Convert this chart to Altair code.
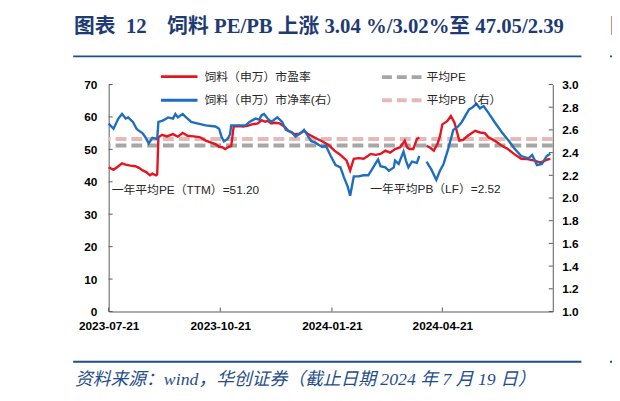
import altair as alt
import pandas as pd

# ---------------- data ----------------
START = "2023-07-21"
X_END = "2024-07-21"
X_TICKS = ["2023-07-21", "2023-10-21", "2024-01-21", "2024-04-21"]
PE_TICKS = [0, 10, 20, 30, 40, 50, 60, 70]
PB_TICKS = [1.0, 1.2, 1.4, 1.6, 1.8, 2.0, 2.2, 2.4, 2.6, 2.8, 3.0]

PE_AVG = 51.20
PB_AVG = 2.52

# days since 2023-07-21 ; series has a gap in early April 2024
PE_DAYS_1 = [0, 4, 8, 11, 14, 18, 22, 25, 28, 31, 34, 36, 39, 40, 41, 44, 48, 53, 57, 61,
             65, 70, 75, 80, 85, 88, 91, 94, 96, 99, 101, 103, 107, 111, 115, 118, 123, 126, 129, 131,
             134, 137, 141, 145, 148, 153, 157, 161, 164, 167, 172, 176, 179, 182, 186, 190, 193, 196, 199, 202,
             206, 210, 213, 216, 220, 224, 228, 232, 236, 240, 243, 244, 246, 248, 251, 254, 256]
PE_VALS_1 = [44.5, 43.7, 44.8, 45.7, 45.3, 45.0, 44.8, 44.3, 43.5, 43.0, 42.0, 42.5, 42.0, 42.3, 53.7, 54.5, 54.0, 54.7, 53.9, 55.1,
             54.2, 54.0, 53.8, 52.7, 52.0, 51.6, 50.8, 50.6, 50.1, 50.8, 51.0, 57.0, 57.2, 57.0, 57.3, 57.7, 58.0, 59.0, 58.5, 58.8,
             58.0, 58.2, 58.0, 57.0, 55.7, 54.7, 54.8, 55.7, 54.8, 54.2, 53.2, 52.5, 51.8, 51.1, 49.6, 48.6, 47.6, 46.6, 43.5, 47.1,
             47.3, 47.1, 47.8, 48.6, 48.3, 48.6, 49.6, 49.0, 50.1, 50.6, 52.1, 52.7, 50.6, 50.1, 50.1, 53.2, 53.7]
PE_DAYS_2 = [262, 265, 268, 271, 273, 275, 279, 282, 285, 289, 292, 296, 302, 306, 310, 313, 318, 324, 329, 334,
             340, 345, 351, 355, 358, 361, 364]
PE_VALS_2 = [51.1, 50.5, 49.6, 51.7, 54.0, 57.7, 58.7, 60.3, 58.2, 52.7, 52.9, 54.2, 55.7, 55.2, 55.0, 53.7, 52.7, 51.1, 50.1, 48.6,
             47.1, 47.0, 46.5, 46.0, 46.2, 46.8, 47.05]

PB_DAYS_1 = [0, 4, 8, 11, 14, 16, 20, 23, 24, 28, 30, 32, 33, 36, 40, 41, 44, 46, 49, 53,
             55, 57, 61, 65, 68, 72, 80, 88, 91, 93, 95, 98, 100, 101, 105, 113, 116, 121, 124, 126,
             128, 131, 134, 139, 143, 146, 151, 154, 158, 161, 164, 167, 170, 173, 176, 179, 183, 187, 191, 194,
             197, 199, 202, 206, 210, 214, 218, 222, 224, 228, 231, 235, 236, 239, 243, 245, 247, 250, 254, 256]
PB_VALS_1 = [2.655, 2.61, 2.70, 2.74, 2.70, 2.71, 2.67, 2.61, 2.60, 2.57, 2.54, 2.50, 2.48, 2.53, 2.52, 2.67, 2.68, 2.69, 2.71, 2.70,
             2.74, 2.71, 2.74, 2.70, 2.67, 2.66, 2.64, 2.63, 2.61, 2.54, 2.50, 2.52, 2.56, 2.64, 2.64, 2.64, 2.67, 2.70, 2.69, 2.73,
             2.74, 2.70, 2.67, 2.71, 2.67, 2.60, 2.58, 2.54, 2.57, 2.60, 2.55, 2.50, 2.49, 2.47, 2.45, 2.46, 2.37, 2.29, 2.27, 2.18,
             2.10, 2.02, 2.19, 2.19, 2.20, 2.20, 2.27, 2.34, 2.28, 2.27, 2.24, 2.27, 2.33, 2.30, 2.41, 2.33, 2.27, 2.32, 2.31, 2.37]
PB_DAYS_2 = [262, 266, 270, 273, 276, 280, 284, 288, 291, 297, 300, 303, 306, 309, 313, 318, 324, 330, 334, 340,
             346, 349, 353, 357, 361, 364]
PB_VALS_2 = [2.32, 2.25, 2.16, 2.24, 2.30, 2.44, 2.60, 2.63, 2.67, 2.78, 2.80, 2.83, 2.79, 2.81, 2.75, 2.67, 2.58, 2.50, 2.44, 2.37,
             2.35, 2.38, 2.29, 2.30, 2.37, 2.39]

TITLE = "图表\u00a0\u00a012\u3000饲料 PE/PB 上涨 3.04 %/3.02%至 47.05/2.39"
SOURCE = "资料来源：wind，华创证券（截止日期 2024 年 7 月 19 日）"
LEGEND = ["饲料（申万）市盈率", "饲料（申万）市净率(右）", "平均PE", "平均PB（右）"]
NOTES = ["一年平均PE（TTM）=51.20", "一年平均PB（LF）=2.52"]

# ---------------- style ----------------
RED = "#E5141E"
BLUE = "#1E6EBE"
GREY = "#A6A6A6"
PINK = "#E6B9B8"
AXIS_C = "#595959"
NAVY = "#1F3B73"
LINE_BLUE = "#1F4E8C"
SANS = "Liberation Sans, Arial, Noto Sans CJK SC, sans-serif"
SERIF = "Liberation Serif, Times New Roman, Noto Sans CJK SC, serif"
W, H = 450, 230


def to_dates(days):
    base = pd.Timestamp(START)
    return [(base + pd.Timedelta(days=d)).strftime("%Y-%m-%d") for d in days]


def dt(s):
    y, m, d = map(int, s.split("-"))
    return alt.DateTime(year=y, month=m, date=d, utc=True)


pe_df = pd.DataFrame({
    "date": to_dates(PE_DAYS_1) + to_dates(PE_DAYS_2),
    "pe": PE_VALS_1 + PE_VALS_2,
    "seg": ["a"] * len(PE_DAYS_1) + ["b"] * len(PE_DAYS_2),
})
pb_df = pd.DataFrame({
    "date": to_dates(PB_DAYS_1) + to_dates(PB_DAYS_2),
    "pb": PB_VALS_1 + PB_VALS_2,
    "seg": ["a"] * len(PB_DAYS_1) + ["b"] * len(PB_DAYS_2),
})

x_scale = alt.Scale(type="utc", domain=[dt(START), dt(X_END)])
x_axis = alt.Axis(values=[dt(s) for s in X_TICKS], format="%Y-%m-%d", title=None, grid=False,
                  tickSize=0, domainColor=AXIS_C, labelFont=SANS, labelFontSize=12,
                  labelFontWeight="bold", labelColor="#000000", labelPadding=9,
                  labelFlush=False, labelOverlap=False)
x_enc = alt.X("date:T", scale=x_scale, axis=x_axis)

pe_scale = alt.Scale(domain=[0, 70], nice=False, zero=False)
pb_scale = alt.Scale(domain=[1, 3], nice=False, zero=False)

pe_axis = alt.Axis(orient="left", values=PE_TICKS, title=None, grid=False, tickSize=0,
                   domainColor=AXIS_C, labelFont=SANS, labelFontSize=12, labelFontWeight="bold",
                   labelColor="#000000", labelPadding=12, labelFlush=False)
pb_axis = alt.Axis(orient="right", values=PB_TICKS, format=".1f", title=None, grid=False, tickSize=0,
                   domainColor=AXIS_C, labelFont=SANS, labelFontSize=12, labelFontWeight="bold",
                   labelColor="#000000", labelPadding=9, labelFlush=False)

pb_avg = alt.Chart(pd.DataFrame({"v": [PB_AVG]})).mark_rule(
    color=PINK, strokeWidth=4, strokeDash=[11, 5]).encode(y=alt.Y("v:Q", scale=pb_scale, axis=None))
pe_avg = alt.Chart(pd.DataFrame({"v": [PE_AVG]})).mark_rule(
    color=GREY, strokeWidth=4, strokeDash=[11, 5]).encode(y=alt.Y("v:Q", scale=pe_scale, axis=None))

pe_line = alt.Chart(pe_df).mark_line(color=RED, strokeWidth=2.4).encode(
    x=x_enc, y=alt.Y("pe:Q", scale=pe_scale, axis=pe_axis), detail="seg:N")
pb_line = alt.Chart(pb_df).mark_line(color=BLUE, strokeWidth=2.4).encode(
    x=x_enc, y=alt.Y("pb:Q", scale=pb_scale, axis=pb_axis), detail="seg:N")

pe_ticks = alt.Chart(pd.DataFrame({"t": PE_TICKS})).mark_rule(color=AXIS_C).encode(
    y=alt.Y("t:Q", scale=pe_scale, axis=None), x=alt.value(0), x2=alt.value(4))
pb_ticks = alt.Chart(pd.DataFrame({"t": PB_TICKS})).mark_rule(color=AXIS_C).encode(
    y=alt.Y("t:Q", scale=pb_scale, axis=None), x=alt.value(W - 4), x2=alt.value(W))
x_ticks = alt.Chart(pd.DataFrame({"date": X_TICKS})).mark_rule(color=AXIS_C).encode(
    x=x_enc, y=alt.value(H - 4), y2=alt.value(H))

ONE = pd.DataFrame({"k": [0]})


def label(txt, x, y, font=SANS, size=12, color="#262626", baseline="middle", **kw):
    return alt.Chart(ONE).mark_text(align="left", baseline=baseline, font=font, fontSize=size,
                                    color=color, **kw).encode(
        x=alt.value(x), y=alt.value(y), text=alt.value(txt))


def hline(x1, x2, y, color, width, dash=None):
    kw = {"strokeDash": dash} if dash else {}
    return alt.Chart(ONE).mark_rule(color=color, strokeWidth=width, **kw).encode(
        x=alt.value(x1), x2=alt.value(x2), y=alt.value(y))


decor = [
    label(TITLE, -35, -52, font=SERIF, size=21, color=NAVY, baseline="alphabetic", fontWeight="bold"),
    label("图", 508, -52, font=SERIF, size=21, color=NAVY, baseline="alphabetic", fontWeight="bold"),
    hline(-36, 479, -28.5, LINE_BLUE, 2),
    hline(508, 520, -28.5, LINE_BLUE, 2),
    hline(-36, 479, 281, LINE_BLUE, 2),
    hline(508, 520, 281, LINE_BLUE, 2),
    label(SOURCE, -34, 304, font=SERIF, size=18, color=LINE_BLUE, baseline="alphabetic", fontStyle="italic"),
    # legend
    hline(53, 90, -8, RED, 3),
    label(LEGEND[0], 97, -8),
    hline(53, 90, 16, BLUE, 3),
    label(LEGEND[1], 97, 16),
    hline(277, 317, -7.5, GREY, 4, [10, 5]),
    label(LEGEND[2], 322, -7.5),
    hline(277, 317, 16, PINK, 4, [10, 5]),
    label(LEGEND[3], 322, 16),
    # annotations
    label(NOTES[0], 3, 106.5),
    label(NOTES[1], 265, 106),
]

chart = alt.layer(
    pb_avg, pe_avg, pe_line, pb_line, pe_ticks, pb_ticks, x_ticks, *decor
).resolve_scale(y="independent").properties(
    width=W, height=H,
    padding={"left": 102, "top": 75, "right": 60, "bottom": 75},
    autosize=alt.AutoSizeParams(type="none"),
    background="white",
).configure_view(stroke=None)

chart.save("out.html", embed_options={"renderer": "svg", "actions": False})
